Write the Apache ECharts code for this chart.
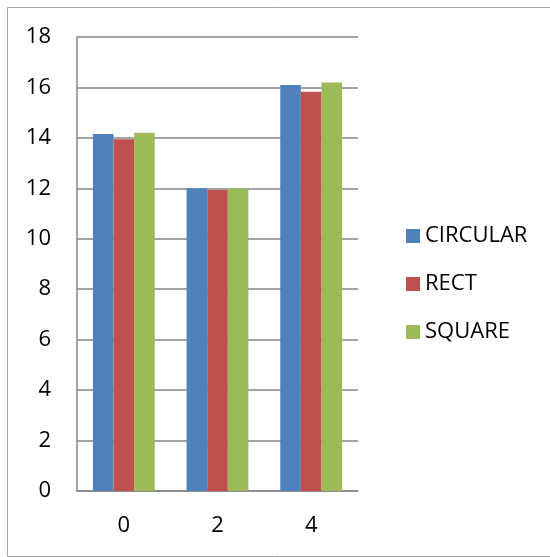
<!DOCTYPE html>
<html>
<head>
<meta charset="utf-8">
<script src="https://cdn.jsdelivr.net/npm/echarts@6/dist/echarts.min.js"></script>
<style>
  html, body { margin: 0; padding: 0; background: #fff; }
  #chart { width: 550px; height: 557px; }
</style>
</head>
<body>
<div id="chart"></div>
<script>
// Categories along the x axis
const categories = ['0', '2', '4'];

// Series values per category
const circular = [14.15, 12.0, 16.1];
const rect = [13.95, 11.93, 15.83];
const square = [14.2, 12.0, 16.2];
const seriesNames = ['CIRCULAR', 'RECT', 'SQUARE'];
const seriesColors = ['#4F81BD', '#C0504D', '#9BBB59'];
const seriesValues = [circular, rect, square];

// Y axis range
const yMin = 0;
const yMax = 18;
const yStep = 2;

const font = 'Open Sans';
const chart = echarts.init(document.getElementById('chart'), null, { renderer: 'canvas' });

chart.setOption({
  animation: false,
  backgroundColor: '#ffffff',
  textStyle: { fontFamily: font },
  graphic: [{
    type: 'rect',
    shape: { x: 7.5, y: 7.5, width: 560, height: 549 },
    style: { fill: 'none', stroke: '#a6a6a6', lineWidth: 1 },
    silent: true
  }],
  grid: { left: 77, right: 192, top: 37, bottom: 66, containLabel: false },
  legend: {
    orient: 'vertical',
    left: 401,
    top: 220,
    itemWidth: 14,
    itemHeight: 14,
    itemGap: 26,
    icon: 'rect',
    textStyle: { fontFamily: font, fontSize: 22, color: '#000', lineHeight: 22 },
    data: seriesNames
  },
  xAxis: {
    type: 'category',
    data: categories,
    axisLine: { show: true, lineStyle: { color: '#868686', width: 1.5 } },
    axisTick: { show: false },
    axisLabel: { fontFamily: font, fontSize: 22, color: '#000', margin: 24 },
    splitLine: { show: false }
  },
  yAxis: {
    type: 'value',
    min: yMin,
    max: yMax,
    interval: yStep,
    axisLine: { show: true, lineStyle: { color: '#868686', width: 1.5 } },
    axisTick: { show: false },
    axisLabel: { fontFamily: font, fontSize: 22, color: '#000', margin: 26 },
    splitLine: { show: true, lineStyle: { color: '#868686', width: 1.5 } }
  },
  series: seriesNames.map((name, i) => ({
    name: name,
    type: 'bar',
    data: seriesValues[i],
    barGap: '0%',
    barCategoryGap: '34%',
    itemStyle: { color: seriesColors[i] }
  }))
});
</script>
</body>
</html>
